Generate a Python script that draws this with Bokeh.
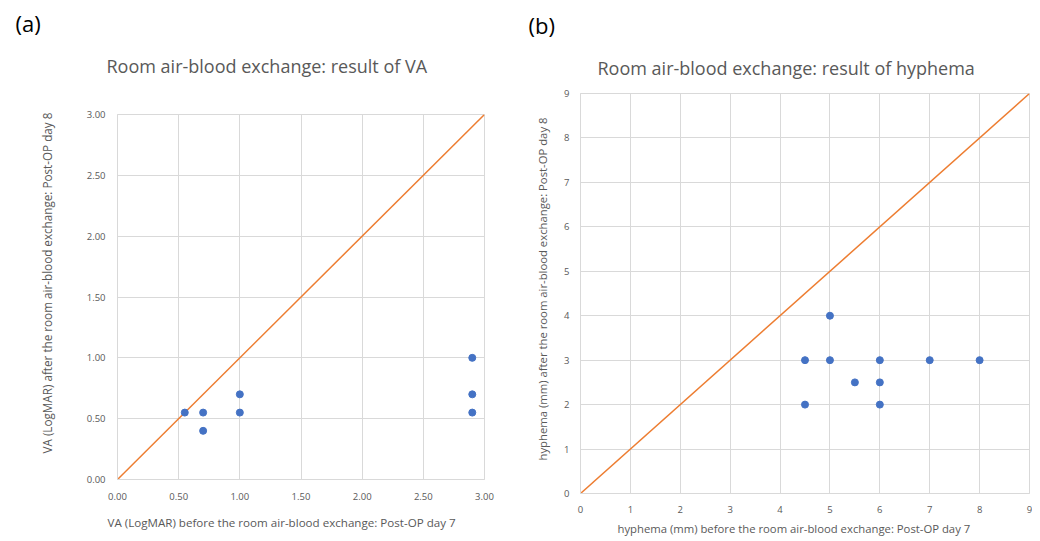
from bokeh.plotting import figure
from bokeh.layouts import row, column
from bokeh.models import Range1d, FixedTicker, Title, NumeralTickFormatter
from bokeh.embed import file_html
from bokeh.resources import INLINE

# ---- data ----
va_before = [0.55, 0.70, 0.70, 1.00, 1.00, 2.90, 2.90, 2.90]
va_after = [0.55, 0.55, 0.40, 0.70, 0.55, 1.00, 0.70, 0.55]
va_ticks = [0.0, 0.5, 1.0, 1.5, 2.0, 2.5, 3.0]
va_diag = [0.0, 3.0]

hy_before = [4.5, 4.5, 5.0, 5.0, 5.5, 6.0, 6.0, 6.0, 7.0, 8.0]
hy_after = [3.0, 2.0, 4.0, 3.0, 2.5, 3.0, 2.5, 2.0, 3.0, 3.0]
hy_ticks = [0, 1, 2, 3, 4, 5, 6, 7, 8, 9]
hy_diag = [0.0, 9.0]

FONT = "Open Sans"
GRID = "#D9D9D9"
TXT = "#595959"
BLUE = "#4472C4"
ORANGE = "#ED7D31"


def style(p, ticks):
    p.xaxis.ticker = FixedTicker(ticks=ticks)
    p.yaxis.ticker = FixedTicker(ticks=ticks)
    for ax in (p.xaxis, p.yaxis):
        ax.axis_line_color = GRID
        ax.major_tick_line_color = None
        ax.minor_tick_line_color = None
        ax.major_label_text_font = FONT
        ax.major_label_text_font_size = "9.5px"
        ax.major_label_text_color = TXT
    p.xgrid.ticker = FixedTicker(ticks=ticks)
    p.ygrid.ticker = FixedTicker(ticks=ticks)
    p.grid.grid_line_color = GRID
    p.grid.grid_line_width = 1
    p.outline_line_color = GRID
    p.background_fill_color = "white"
    p.border_fill_color = "white"


def ttl(p, side, text, size, offset, standoff, color=TXT):
    p.add_layout(Title(text=text, align="left", offset=offset, standoff=standoff,
                       text_font=FONT, text_font_size=size, text_color=color,
                       text_font_style="normal"), side)


# ---- panel (a) ----
pa = figure(width=520, height=540, output_backend="svg", toolbar_location=None,
            x_range=Range1d(0, 3), y_range=Range1d(0, 3),
            min_border_left=117, min_border_right=36, min_border_top=114, min_border_bottom=59)
style(pa, va_ticks)
pa.xaxis.formatter = NumeralTickFormatter(format="0.00")
pa.yaxis.formatter = NumeralTickFormatter(format="0.00")
pa.xaxis.major_label_standoff = 7
pa.yaxis.major_label_standoff = 6
pa.line(va_diag, va_diag, line_color=ORANGE, line_width=1.5)
pa.scatter(va_before, va_after, size=7, fill_color=BLUE, line_color=BLUE)
ttl(pa, "above", "Room air-blood exchange: result of VA", "18px", -11, 73)
ttl(pa, "above", "(a)", "22px", -102, -44, color="black")
ttl(pa, "left", "VA (LogMAR) after the room air-blood exchange: Post-OP day 8", "11.7px", 26, 57)
ttl(pa, "below", "VA (LogMAR) before the room air-blood exchange: Post-OP day 7", "11.6px", -10, 21)

# ---- panel (b) ----
pb = figure(width=512, height=540, output_backend="svg", toolbar_location=None,
            x_range=Range1d(0, 9), y_range=Range1d(0, 9),
            min_border_left=60, min_border_right=3, min_border_top=93, min_border_bottom=47)
style(pb, hy_ticks)
pb.xaxis.major_label_standoff = 6
pb.yaxis.major_label_standoff = 5
pb.line(hy_diag, hy_diag, line_color=ORANGE, line_width=1.5)
pb.scatter(hy_before, hy_after, size=7, fill_color=BLUE, line_color=BLUE)
ttl(pb, "above", "Room air-blood exchange: result of hyphema", "18px", 17, 27)
ttl(pb, "above", "(b)", "22px", -52, 2, color="black")
ttl(pb, "left", "hyphema (mm) after the room air-blood exchange: Post-OP day 8", "11.3px", 33, 24)
ttl(pb, "below", "hyphema (mm) before the room air-blood exchange: Post-OP day 7", "11.3px", 37, 6)

layout = row(column(pa), column(pb))
open("out.html", "w").write(file_html(layout, INLINE))
